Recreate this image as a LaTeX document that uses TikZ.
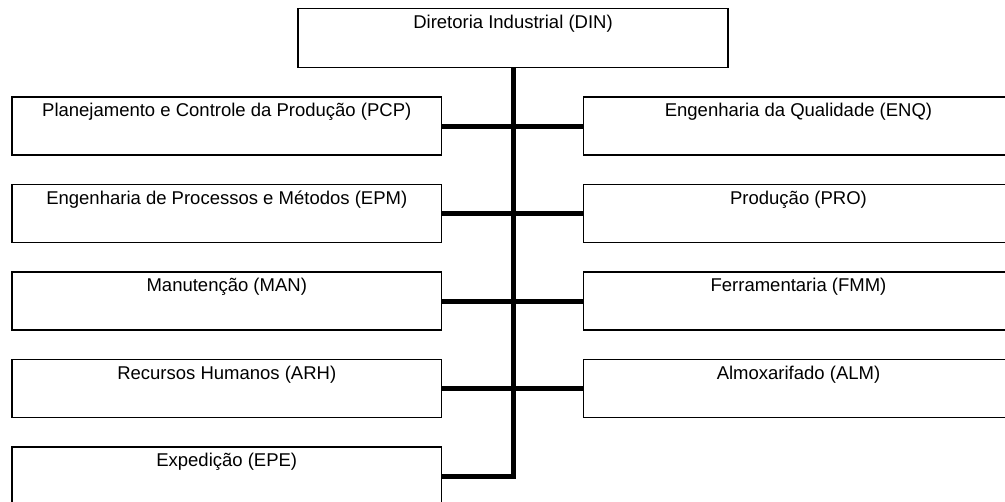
\documentclass[tikz,border=0pt]{standalone}
\usepackage{fontspec}
\setmainfont{Liberation Sans}
\begin{document}
\begin{tikzpicture}[x=1pt,y=-1pt,
  box/.style={draw=black, line width=1.3pt, fill=white, minimum width=429.5pt,
    inner xsep=0pt, inner ysep=0pt, text height=19.5pt, text depth=38.5pt,
    font=\fontsize{18.5pt}{22pt}\selectfont, anchor=north},
  link/.style={line width=5pt, draw=black}]
\useasboundingbox (0,0) rectangle (1005,502);
\clip (0,0) rectangle (1005,502);
\node[box, minimum width=430pt, text depth=39.5pt] (din) at (513,8) {Diretoria Industrial (DIN)};
\node[box] (pcp) at (226.75,96.5) {Planejamento e Controle da Produção (PCP)};
\node[box] (epm) at (226.75,184) {Engenharia de Processos e Métodos (EPM)};
\node[box] (man) at (226.75,271.5) {Manutenção (MAN)};
\node[box] (arh) at (226.75,359) {Recursos Humanos (ARH)};
\node[box] (epe) at (226.75,446.5) {Expedição (EPE)};
\node[box] (enq) at (798.5,96.5) {Engenharia da Qualidade (ENQ)};
\node[box] (pro) at (798.5,184) {Produção (PRO)};
\node[box] (fmm) at (798.5,271.5) {Ferramentaria (FMM)};
\node[box] (alm) at (798.5,359) {Almoxarifado (ALM)};
\draw[link] (din.south) |- (epe.east);
\draw[link] (pcp.east) -- (enq.west);
\draw[link] (epm.east) -- (pro.west);
\draw[link] (man.east) -- (fmm.west);
\draw[link] (arh.east) -- (alm.west);
\end{tikzpicture}
\end{document}
